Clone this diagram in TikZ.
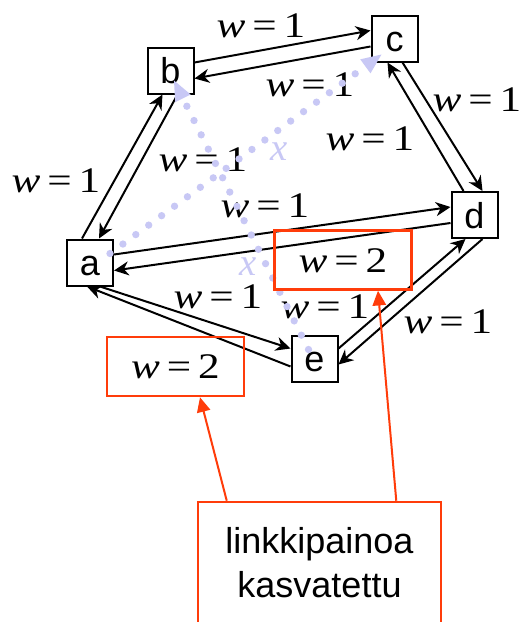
\documentclass[tikz,border=0pt]{standalone}
\usepackage{fontspec}
\usepackage{graphicx}
\setmainfont{Liberation Serif}
\newfontfamily\arialf{Liberation Sans}
\usetikzlibrary{arrows.meta,calc}
\definecolor{myred}{RGB}{255,60,10}
\definecolor{dotblue}{RGB}{200,200,245}
\newcommand{\wv}[1]{\scalebox{1.2}[1]{{\itshape w}\hspace{0.16em}=\hspace{0.16em}#1}}
\tikzset{
  vtx/.style={draw, line width=1.5pt, fill=white, minimum size=34.5pt, inner sep=0pt,
    font=\arialf\fontsize{27}{30}\selectfont, text height=19.5pt, text depth=0pt},
  arr/.style={-{Stealth[length=11pt,width=10.5pt,inset=3.5pt]}, line width=1.5pt},
  wl/.style={font=\fontsize{27}{30}\selectfont, inner sep=0pt, text height=18.2pt, text depth=0pt},
  xl/.style={font=\fontsize{29}{32}\selectfont\itshape, text=dotblue, inner sep=0pt, text height=9pt, text depth=0pt},
  dots/.style={dotblue, line width=5.5pt, line cap=round, dash pattern=on 0pt off 12pt,
    -{Triangle[length=15pt,width=13pt,line width=0pt]}},
  redbox/.style={draw=myred, line width=1.9pt, minimum width=102.75pt, minimum height=44.25pt,
    inner sep=0pt, font=\fontsize{27}{30}\selectfont, text height=18.2pt, text depth=0pt},
  redarr/.style={myred, line width=1.5pt, -{Triangle[length=11pt,width=10pt]}},
  notebox/.style={draw=myred, line width=1.9pt, minimum width=182.25pt, minimum height=91.5pt,
    align=center, inner sep=0pt, font=\arialf\fontsize{27}{33}\selectfont}
}
\begin{document}
\begin{tikzpicture}[x=0.75pt,y=-0.75pt]
\clip (0,0) rectangle (525,622);
\fill[white] (0,0) rectangle (525,622);

% vertices
\node[vtx] (a) at (90,262.5) {a};
\node[vtx] (b) at (170.5,70.5) {b};
\node[vtx] (c) at (394.5,38.5) {c};
\node[vtx] (d) at (474.5,215) {d};
\node[vtx] (e) at (314.5,358.5) {e};

% links
\draw[arr] ($(a.north)+(-8,0)$) -- ($(b.south)+(-8,0)$);
\draw[arr] ($(b.south)+(7,0)$) -- ($(a.north)+(9,0)$);
\draw[arr] ($(b.east)+(0,-8)$) -- ($(c.west)+(0,-8)$);
\draw[arr] ($(c.west)+(0,8)$) -- ($(b.east)+(0,8)$);
\draw[arr] ($(c.south)+(8,0)$) -- ($(d.north)+(8,0)$);
\draw[arr] ($(d.north)+(-11,0)$) -- ($(c.south)+(-7,0)$);
\draw[arr] ($(a.east)+(0,-8)$) -- ($(d.west)+(0,-8)$);
\draw[arr] ($(d.west)+(0,8)$) -- ($(a.east)+(0,8)$);
\draw[arr] ($(a.south)+(10,0)$) -- ($(e.west)+(0,-10)$);
\draw[arr] ($(e.west)+(0,8)$) -- ($(a.south)+(-3,0)$);
\draw[arr] ($(e.east)+(0,-10)$) -- ($(d.south)+(-9,0)$);
\draw[arr] ($(d.south)+(8,0)$) -- ($(e.east)+(0,6)$);

% weight labels
\node[wl] (l1) at (261,25) {\wv{1}};
\node[wl] (l2) at (310,84) {\wv{1}};
\node[wl] (l3) at (477,99) {\wv{1}};
\node[wl] (l4) at (370,138) {\wv{1}};
\node[wl] (l5) at (56,180) {\wv{1}};
\node[wl] (l6) at (203,159) {\wv{1}};
\node[wl] (l7) at (265,205) {\wv{1}};
\node[wl] (l9) at (218,296) {\wv{1}};
\node[wl] (l10) at (325,306) {\wv{1}};
\node[wl] (l11) at (448,321) {\wv{1}};

% dotted paths
\draw[dots] ($(a.east)+(-4,-9)$) -- ($(c.south west)+(11,-8)$);
\draw[dots] ($(e.north)+(-6,15)$) -- ($(b.south)+(3.5,-14)$);
\node[xl] (x1) at (279,154) {x};
\node[xl] (x2) at (248,269) {x};

% red boxes
\node[redbox] (r1) at (175.5,366.5) {\wv{2}};
\node[redbox] (r2) at (343,260) {\wv{2}};
\node[notebox] (lk) at (319.5,563) {linkkipainoa\\kasvatettu};
\draw[redarr] ($(lk.north west)+(30,0)$) -- ($(r1.south)+(24.5,0)$);
\draw[redarr] ($(lk.north east)+(-46,0)$) -- ($(r2.south)+(35,0)$);
\end{tikzpicture}
\end{document}
